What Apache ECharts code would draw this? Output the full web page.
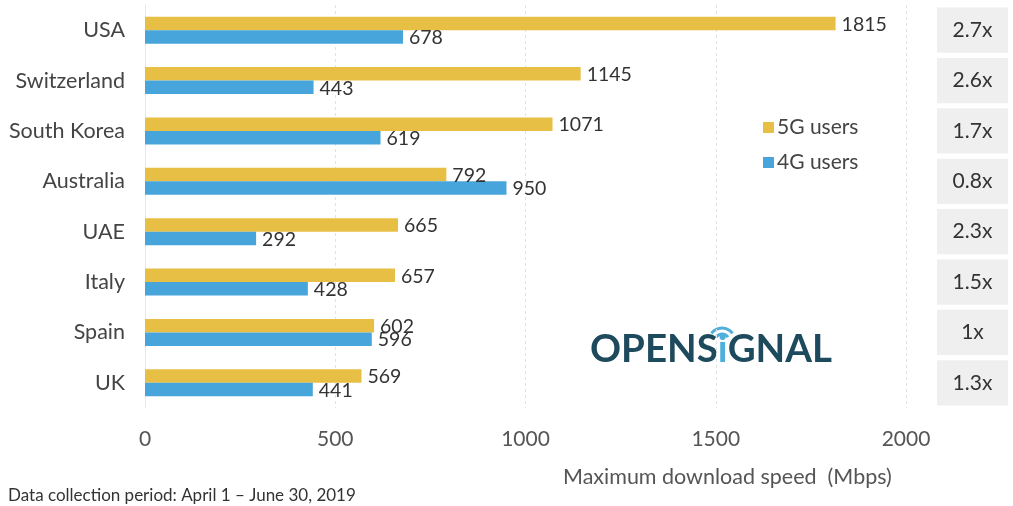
<!DOCTYPE html>
<html>
<head>
<meta charset="utf-8">
<script src="https://cdn.jsdelivr.net/npm/echarts@6/dist/echarts.min.js"></script>
<style>
html,body{margin:0;padding:0;background:#fff;}
#main{width:1013px;height:506px;}
</style>
</head>
<body>
<div id="main"></div>
<script>
const countries = ['USA','Switzerland','South Korea','Australia','UAE','Italy','Spain','UK'];
const users5G = [1815,1145,1071,792,665,657,602,569];
const users4G = [678,443,619,950,292,428,596,441];
const ratios = ['2.7x','2.6x','1.7x','0.8x','2.3x','1.5x','1x','1.3x'];
const xTicks = [0,500,1000,1500,2000];

const FONT = 'Lato';
const chart = echarts.init(document.getElementById('main'));
chart.setOption({
  animation:false,
  textStyle:{fontFamily:FONT},
  grid:[
    {left:145,right:107,top:5,bottom:98},
    {left:937,width:71,top:5,bottom:98}
  ],
  legend:{
    orient:'vertical',left:758,top:112,itemWidth:11,itemHeight:11,itemGap:14,
    icon:'rect',
    textStyle:{fontFamily:FONT,fontSize:21,color:'#444',padding:[0,0,0,-2]},
    data:['5G users','4G users']
  },
  xAxis:[
    {gridIndex:0,type:'value',min:xTicks[0],max:xTicks[xTicks.length-1],interval:500,
     axisLine:{show:false},axisTick:{show:false},
     axisLabel:{margin:21,fontSize:21,color:'#555',fontFamily:FONT,formatter:v=>String(v)},
     splitLine:{lineStyle:{type:[3,3],color:'#e2e2e2'}}},
    {gridIndex:1,type:'value',min:0,max:1,show:false}
  ],
  yAxis:[
    {gridIndex:0,type:'category',inverse:true,data:countries,
     axisLine:{lineStyle:{color:'#e8e8e8'}},axisTick:{show:false},
     axisLabel:{margin:20,fontSize:21.5,color:'#444',fontFamily:FONT}},
    {gridIndex:1,type:'category',inverse:true,data:countries,show:false}
  ],
  series:[
    {name:'5G users',type:'bar',xAxisIndex:0,yAxisIndex:0,data:users5G,
     barWidth:13.5,barGap:'0%',itemStyle:{color:'#e8bf45'},
     label:{show:true,position:'right',distance:6,fontSize:19.5,color:'#333',fontFamily:FONT,offset:[0,1]}},
    {name:'4G users',type:'bar',xAxisIndex:0,yAxisIndex:0,data:users4G,
     barWidth:13.5,barGap:'0%',itemStyle:{color:'#47a5db'},
     label:{show:true,position:'right',distance:6,fontSize:19.5,color:'#333',fontFamily:FONT,offset:[0,1]}},
    {name:'ratio',type:'bar',xAxisIndex:1,yAxisIndex:1,data:countries.map(()=>1),
     barCategoryGap:'10%',itemStyle:{color:'#efefef'},silent:true,
     label:{show:true,position:'inside',fontSize:21,color:'#333',fontFamily:FONT,
       formatter:p=>ratios[p.dataIndex]}}
  ],
  graphic:[
    {type:'text',left:563,top:466,style:{text:'Maximum download speed  (Mbps)',fontSize:21.5,fill:'#555',fontFamily:FONT}},
    {type:'text',left:8,top:487,style:{text:'Data collection period: April 1 – June 30, 2019',fontSize:17,fill:'#333',fontFamily:FONT}},
    {type:'text',left:590,top:330,style:{
      text:'OPENS{i|i}GNAL',fontSize:38.5,fontWeight:'bold',fill:'#1e4a5e',fontFamily:FONT,
      rich:{i:{fontSize:38.5,fontWeight:'bold',fill:'#4fb0dc',fontFamily:FONT}}}},
    {type:'arc',shape:{cx:722,cy:341,r:7,startAngle:-Math.PI*0.82,endAngle:-Math.PI*0.18},
     style:{stroke:'#4fb0dc',lineWidth:3,fill:null}},
    {type:'arc',shape:{cx:722,cy:341,r:13,startAngle:-Math.PI*0.8,endAngle:-Math.PI*0.2},
     style:{stroke:'#4fb0dc',lineWidth:3,fill:null}}
  ]
});
</script>
</body>
</html>
